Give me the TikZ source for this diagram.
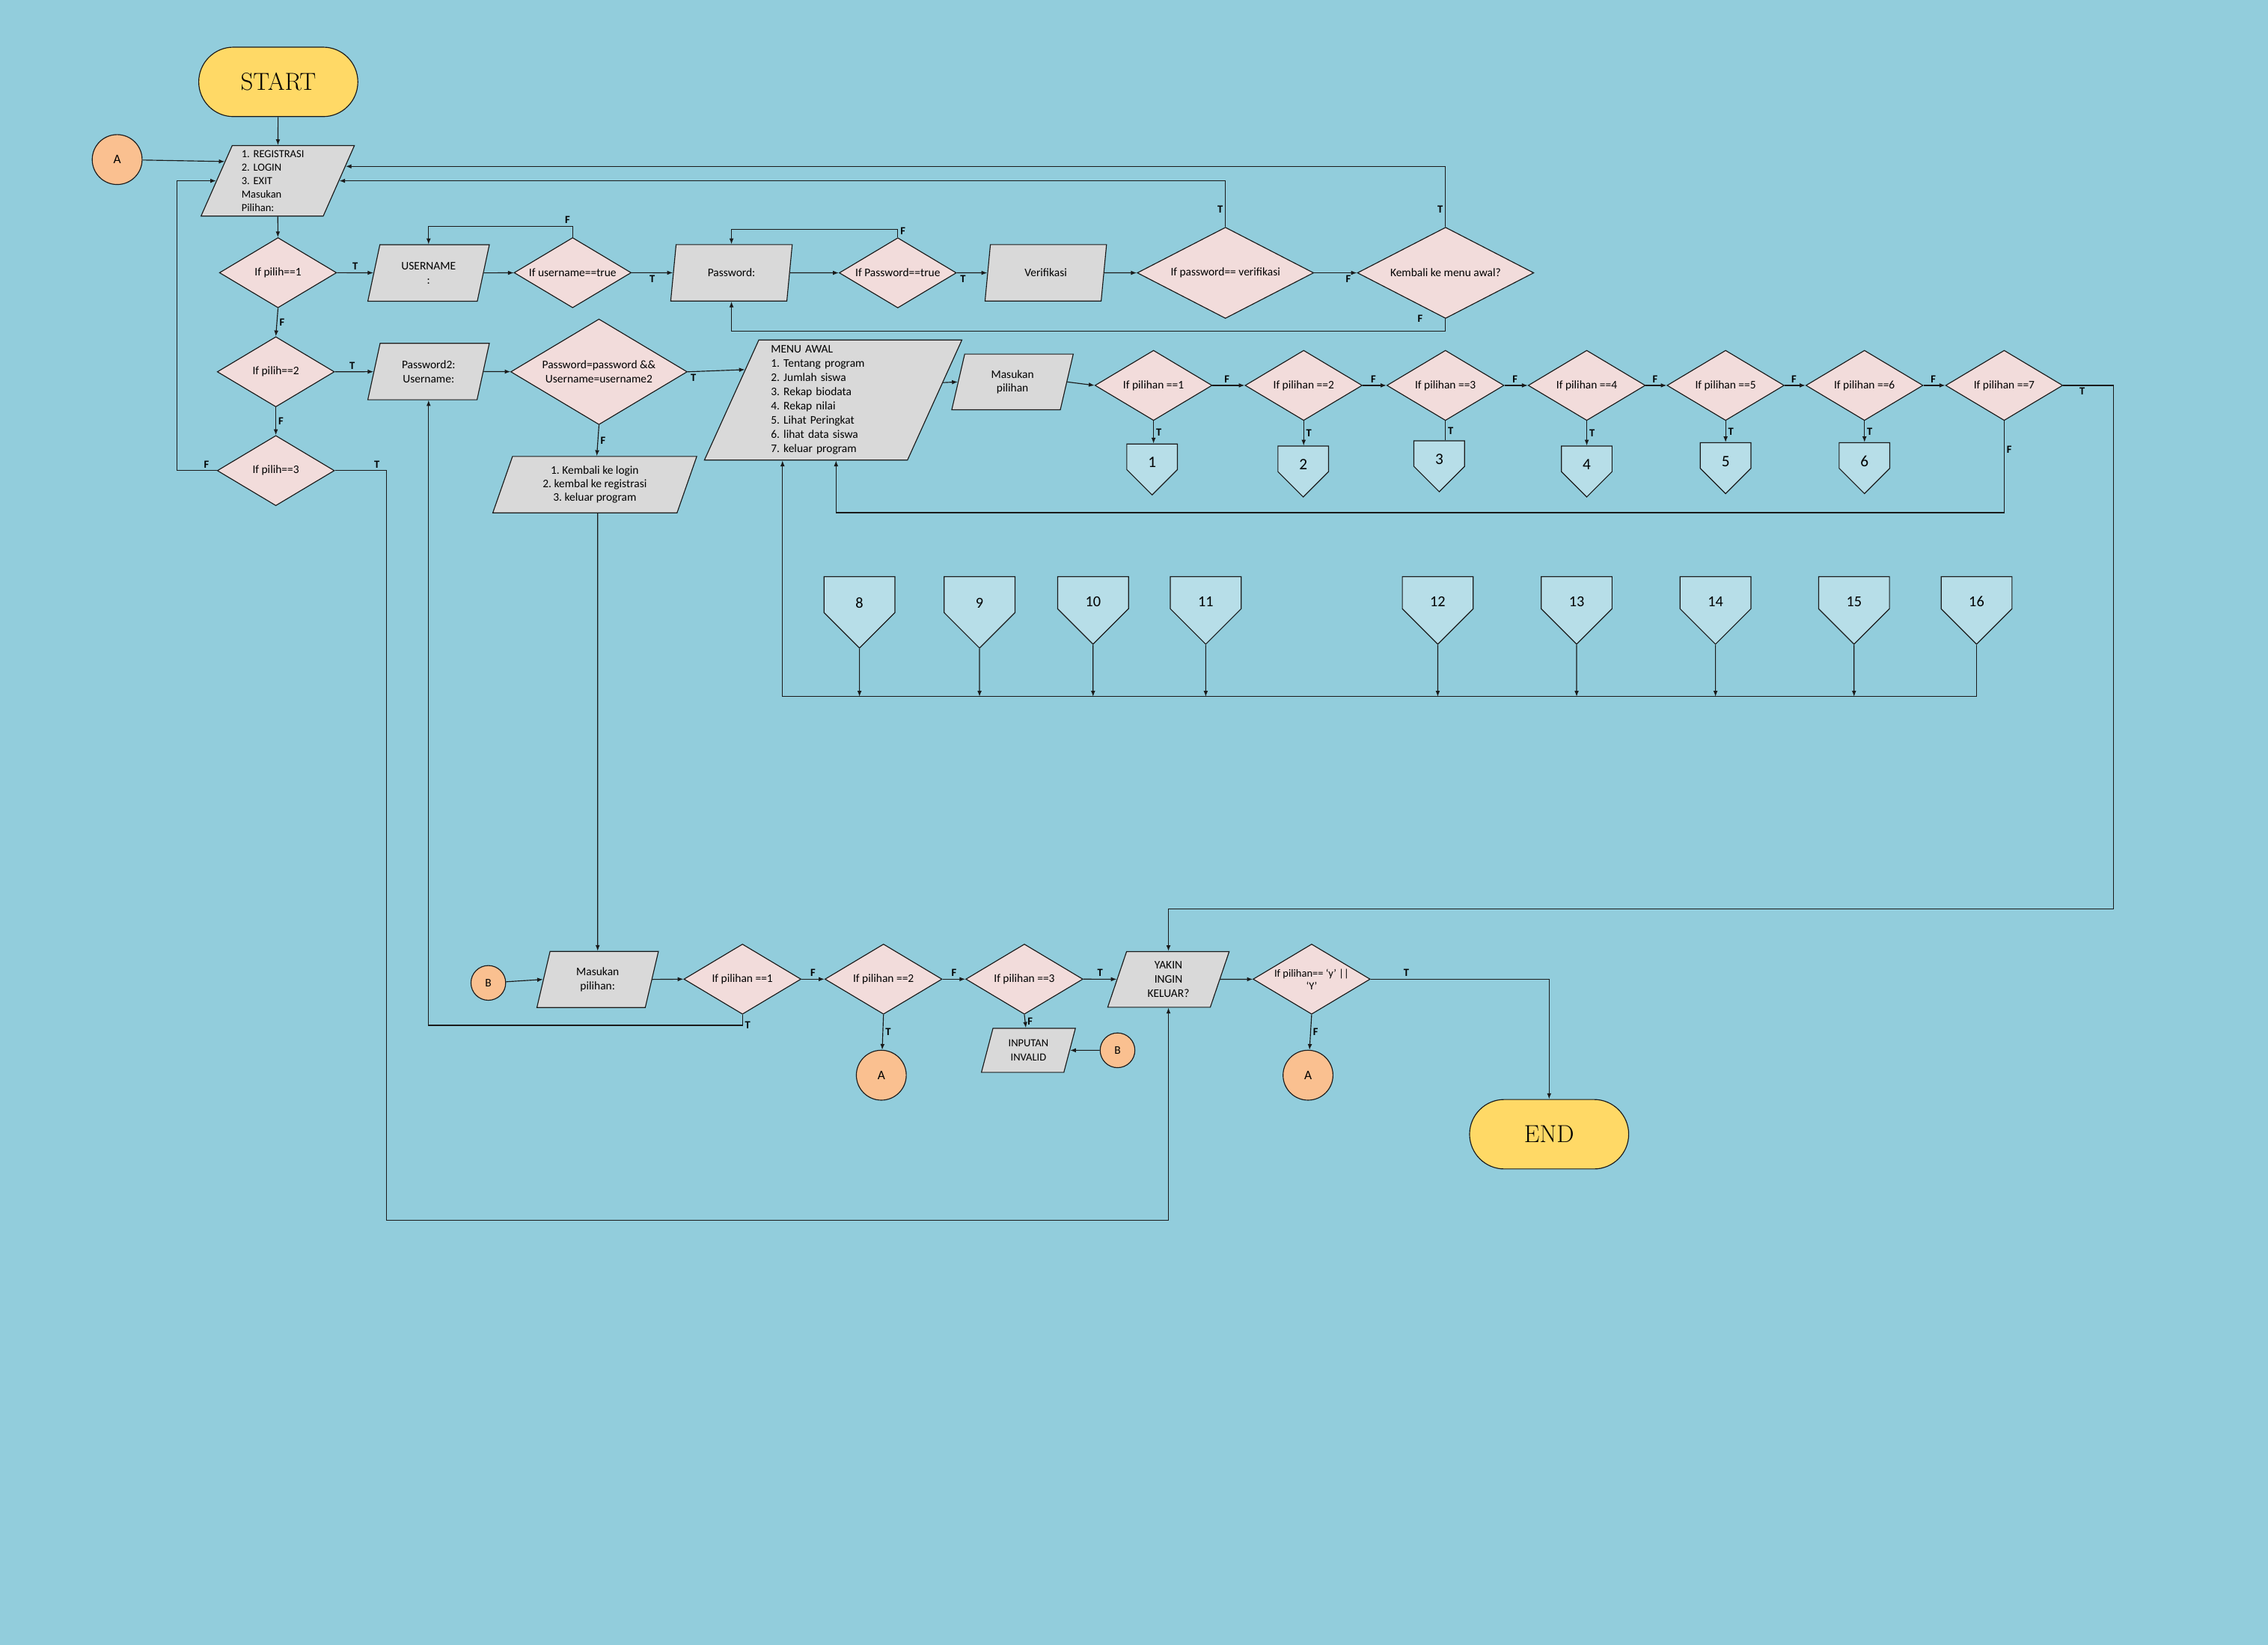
\documentclass[tikz,border=0pt]{standalone}
\usepackage{fontspec}
\setsansfont{Carlito}
\usepackage{tikz}
\usetikzlibrary{shapes, arrows.meta, positioning, calc}
\definecolor{bgBlue}{HTML}{92CDDC}
\definecolor{termYellow}{HTML}{FFD966}
\definecolor{decPink}{HTML}{F2DCDB}
\definecolor{ioGray}{HTML}{D9D9D9}
\definecolor{linkPeach}{HTML}{FAC090}
\definecolor{pageBlue}{HTML}{B7DEE8}
\definecolor{lineDark}{HTML}{1A1A1A}
\tikzset{
    fcBase/.style={
        draw=lineDark,
        line width=0.6pt,
        font=\sffamily\fontsize{8}{9.8}\selectfont,
        align=center,
        inner sep=1pt
    },
    % Shapes
    fcTerminal/.style={fcBase, rounded rectangle, fill=termYellow, minimum width=112pt, minimum height=48pt, font=\fontsize{17}{19}\selectfont},
    fcDecision/.style={fcBase, diamond, aspect=1.65, inner sep=0pt, fill=decPink, minimum width=81pt, minimum height=48.5pt},
    fcDecisionBig/.style={fcDecision, aspect=1.8, minimum width=122pt, minimum height=63pt},
    fcIO/.style={fcBase, trapezium, trapezium left angle=64, trapezium right angle=116, trapezium stretches body, fill=ioGray, minimum width=84pt, minimum height=39pt},
    fcLink/.style={fcBase, circle, fill=linkPeach, minimum size=34.5pt, font=\sffamily\fontsize{9}{10}\selectfont},
    fcLinkSmall/.style={fcLink, minimum size=24pt, font=\sffamily\fontsize{8}{9}\selectfont},
    fcPage/.style={fcBase, signal, signal to=south, signal pointer angle=90, inner sep=0.5pt, fill=pageBlue, anchor=north, minimum width=49pt, minimum height=28pt, text height=19pt, font=\sffamily\fontsize{10.5}{12}\selectfont},
    fcPageSmall/.style={fcPage, minimum width=35pt, minimum height=21pt, text height=15pt, font=\sffamily\fontsize{11}{12}\selectfont},
    % Arrows
    fcFlow/.style={draw=lineDark, line width=0.6pt},
    fcArrow/.style={fcFlow, -{Latex[length=4pt,width=3pt]}},
    fcLabel/.style={font=\sffamily\bfseries\fontsize{7.5}{8}\selectfont, inner sep=1.5pt}
}
\begin{document}
\frenchspacing
\begin{tikzpicture}[x=1pt, y=-1pt]
\fill[bgBlue] (0,0) rectangle (1568,1137);

% login part
\node[fcTerminal] (start) at (192.4,56.6) {START};
\node[fcLink] (linkA1) at (81,110.3) {A};
\node[fcIO, minimum width=106pt, minimum height=48.7pt, align=left, text width=50pt, font=\sffamily\fontsize{7.5}{9.3}\selectfont] (menuLogin) at (192,125) {1. REGISTRASI\\2. LOGIN\\3. EXIT\\Masukan\\Pilihan:};
\node[fcDecision] (ifPilih1) at (192.2,188.5) {If pilih==1};
\node[fcIO] (inUser) at (296.3,188.7) {USERNAME\\:};
\node[fcDecision] (ifUser) at (395.9,188.5) {If username==true};
\node[fcIO] (inPass) at (505.7,188.6) {Password:};
\node[fcDecision] (ifPass) at (620.7,188.6) {If Password==true};
\node[fcIO] (inVerif) at (723,188.6) {Verifikasi};
\node[fcDecisionBig] (ifVerif) at (847.2,188.6) {If password== verifikasi};
\node[fcDecisionBig] (ifBack) at (999.4,188.6) {Kembali ke menu awal?};
\node[fcDecision] (ifPilih2) at (190.7,257) {If pilih==2};
\node[fcIO] (inLogin2) at (296.3,256.8) {Password2:\\Username:};
\node[fcDecisionBig, aspect=1.67, minimum height=73pt] (ifLogin2) at (414.1,257) {Password=password \&\&\\Username=username2};
\node[fcDecision] (ifPilih3) at (190.7,325.3) {If pilih==3};
\node[fcIO, minimum width=141pt, font=\sffamily\fontsize{8}{9.5}\selectfont] (menuFail) at (411.2,335) {1. Kembali ke login\\2. kembal ke registrasi\\3. keluar program};

% main menu
\node[fcIO, minimum width=178pt, minimum height=83pt, align=left, text width=86pt] (menuMain) at (576,276.5) {MENU AWAL\\1. Tentang program\\2. Jumlah siswa\\3. Rekap biodata\\4. Rekap nilai\\5. Lihat Peringkat\\6. lihat data siswa\\7. keluar program};
\node[fcIO, minimum height=38.5pt, font=\sffamily\fontsize{8}{9.5}\selectfont] (inPilih) at (700,264) {Masukan\\pilihan};
\foreach \n/\x in {1/797.5, 2/901.3, 3/999.3, 4/1097, 5/1193, 6/1289, 7/1385.6}
    \node[fcDecision] (ifMenu\n) at (\x,266.4) {If pilihan ==\n};
\foreach \n/\x/\y in {1/796.5/306.6, 2/901/308, 3/995/304.4, 4/1097/308, 5/1193/305.7, 6/1289/305.7}
    \node[fcPageSmall] (page\n) at (\x,\y) {\n};
\foreach \n/\x in {8/594.2, 9/677.2, 10/755.7, 11/833.6, 12/994, 13/1090, 14/1186, 15/1281.8, 16/1366.5}
    \node[fcPage] (page\n) at (\x,398.3) {\n};

% exit part
\node[fcLinkSmall] (linkB1) at (337.6,679.4) {B};
\node[fcIO, minimum height=38.8pt] (inPilih2) at (413.2,677) {Masukan\\pilihan:};
\node[fcDecision] (ifBot1) at (513.3,676.8) {If pilihan ==1};
\node[fcDecision] (ifBot2) at (610.8,676.8) {If pilihan ==2};
\node[fcDecision] (ifBot3) at (708.2,676.8) {If pilihan ==3};
\node[fcLink] (linkA2) at (609.3,743.2) {A};
\node[fcIO, minimum width=65pt, minimum height=30.5pt, font=\sffamily\fontsize{7.5}{9.6}\selectfont] (outInvalid) at (711,726) {INPUTAN\\INVALID};
\node[fcLinkSmall] (linkB2) at (772.6,726) {B};
\node[fcIO, minimum height=38.5pt] (inKeluar) at (807.8,677) {YAKIN\\INGIN\\KELUAR?};
\node[fcDecision, font=\sffamily\fontsize{7.5}{8.8}\selectfont] (ifKeluar) at (906.8,676.8) {If pilihan== ‘y’ ||\\‘Y’};
\node[fcLink] (linkA3) at (904.3,743.2) {A};
\node[fcTerminal] (finish) at (1071,784) {END};

\coordinate (exitLow) at (267,843.3);
\coordinate (exitHigh) at (1461,628.2);
\coordinate (backLoop) at (578,354.4);
\coordinate (collectL) at (541,481.5);

% connectors
\draw[fcArrow] (start) -- (menuLogin);
\draw[fcArrow] (linkA1) -- (menuLogin.160);
\draw[fcArrow] (menuLogin) -- (ifPilih1);
\draw[fcArrow] (ifPilih1.south) -- node[fcLabel, right] {F} (ifPilih2.north);
\draw[fcArrow] (ifPilih2.south) -- node[fcLabel, right] {F} (ifPilih3.north);
\draw[fcArrow] (ifPilih3.west) -- node[fcLabel, above, pos=0.26] {F} ++(-27.6,0) |- (menuLogin.west);
\draw[fcArrow] (ifPilih3.east) -| node[fcLabel, above, pos=0.41] {T} (exitLow) -| (inKeluar);

\draw[fcArrow] (ifPilih1.east) -- node[fcLabel, above] {T} (inUser);
\draw[fcArrow] (inUser) -- (ifUser);
\draw[fcArrow] (ifUser.north) -- ++(0,-7.5) node[fcLabel, above left, pos=1] {F} -| (inUser);
\draw[fcArrow] (ifUser.east) -- node[fcLabel, below] {T} (inPass);
\draw[fcArrow] (inPass) -- (ifPass);
\draw[fcArrow] (ifPass.north) node[fcLabel, above right] {F} -- ++(0,-5.5) -| (inPass);
\draw[fcArrow] (ifPass.east) -- node[fcLabel, below, pos=0.2] {T} (inVerif);
\draw[fcArrow] (inVerif) -- (ifVerif);
\draw[fcArrow] (ifVerif.east) -- node[fcLabel, below, pos=0.8] {F} (ifBack.west);
\draw[fcArrow] (ifVerif.north) |- node[fcLabel, left, pos=0.19] {T} (menuLogin.east);
\draw[fcArrow] (ifBack.north) |- node[fcLabel, left, pos=0.145] {T} (menuLogin.12);
\draw[fcArrow] (ifBack.south) node[fcLabel, left=14pt] {F} -- ++(0,8.7) -| (inPass);

\draw[fcArrow] (ifPilih2.east) -- node[fcLabel, above, pos=0.45] {T} (inLogin2);
\draw[fcArrow] (inLogin2) -- (ifLogin2);
\draw[fcArrow] (ifLogin2.east) -- node[fcLabel, below, pos=0.1] {T} (menuMain.161);
\draw[fcArrow] (ifLogin2.south) -- node[fcLabel, right] {F} (menuFail);
\draw[fcArrow] (inPilih2 |- menuFail.south) -- (inPilih2);

\draw[fcArrow] (menuMain.9) -- (inPilih.west);
\draw[fcArrow] (inPilih.east) -- (ifMenu1.west);
\foreach \a/\b in {1/2, 2/3, 3/4, 4/5, 5/6, 6/7}
    \draw[fcArrow] (ifMenu\a.east) -- node[fcLabel, above, pos=0.45] {F} (ifMenu\b.west);
\foreach \n in {1, 2, 4, 5, 6}
    \draw[fcArrow] (ifMenu\n.south) -- node[fcLabel, right] {T} (ifMenu\n.south |- page\n.north);
\draw[fcFlow] (ifMenu3.south) -- node[fcLabel, right] {T} (ifMenu3.south |- page3.north);
\draw[fcArrow] (ifMenu7.east) -| node[fcLabel, below, pos=0.19] {T} (exitHigh) -| (inKeluar);
\draw[fcArrow] (ifMenu7.south) |- node[fcLabel, right, pos=0.155] {F} (backLoop) -- (backLoop |- menuMain.south);
\foreach \n in {8, ..., 15}
    \draw[fcArrow] (page\n) -- (page\n |- collectL);
\draw[fcArrow] (page16) |- (collectL) -- (collectL |- menuMain.south);

\draw[fcArrow] (linkB1) -- (inPilih2.west);
\draw[fcArrow] (inPilih2.east) -- (ifBot1.west);
\draw[fcArrow] (ifBot1.south) -- ++(0,7.4) node[fcLabel, anchor=west, pos=1] {T} -| (inLogin2);
\draw[fcArrow] (ifBot1.east) -- node[fcLabel, above] {F} (ifBot2.west);
\draw[fcArrow] (ifBot2.east) -- node[fcLabel, above] {F} (ifBot3.west);
\draw[fcArrow] (ifBot2.south) -- node[fcLabel, right] {T} (linkA2);
\draw[fcArrow] (ifBot3.south) -- node[fcLabel, right] {F} (outInvalid);
\draw[fcArrow] (linkB2) -- (outInvalid.east);
\draw[fcArrow] (ifBot3.east) -- node[fcLabel, above] {T} (inKeluar);
\draw[fcArrow] (inKeluar) -- (ifKeluar);
\draw[fcArrow] (ifKeluar.east) -| node[fcLabel, above, pos=0.1] {T} (finish);
\draw[fcArrow] (ifKeluar.south) -- node[fcLabel, right] {F} (linkA3);
\end{tikzpicture}
\end{document}
